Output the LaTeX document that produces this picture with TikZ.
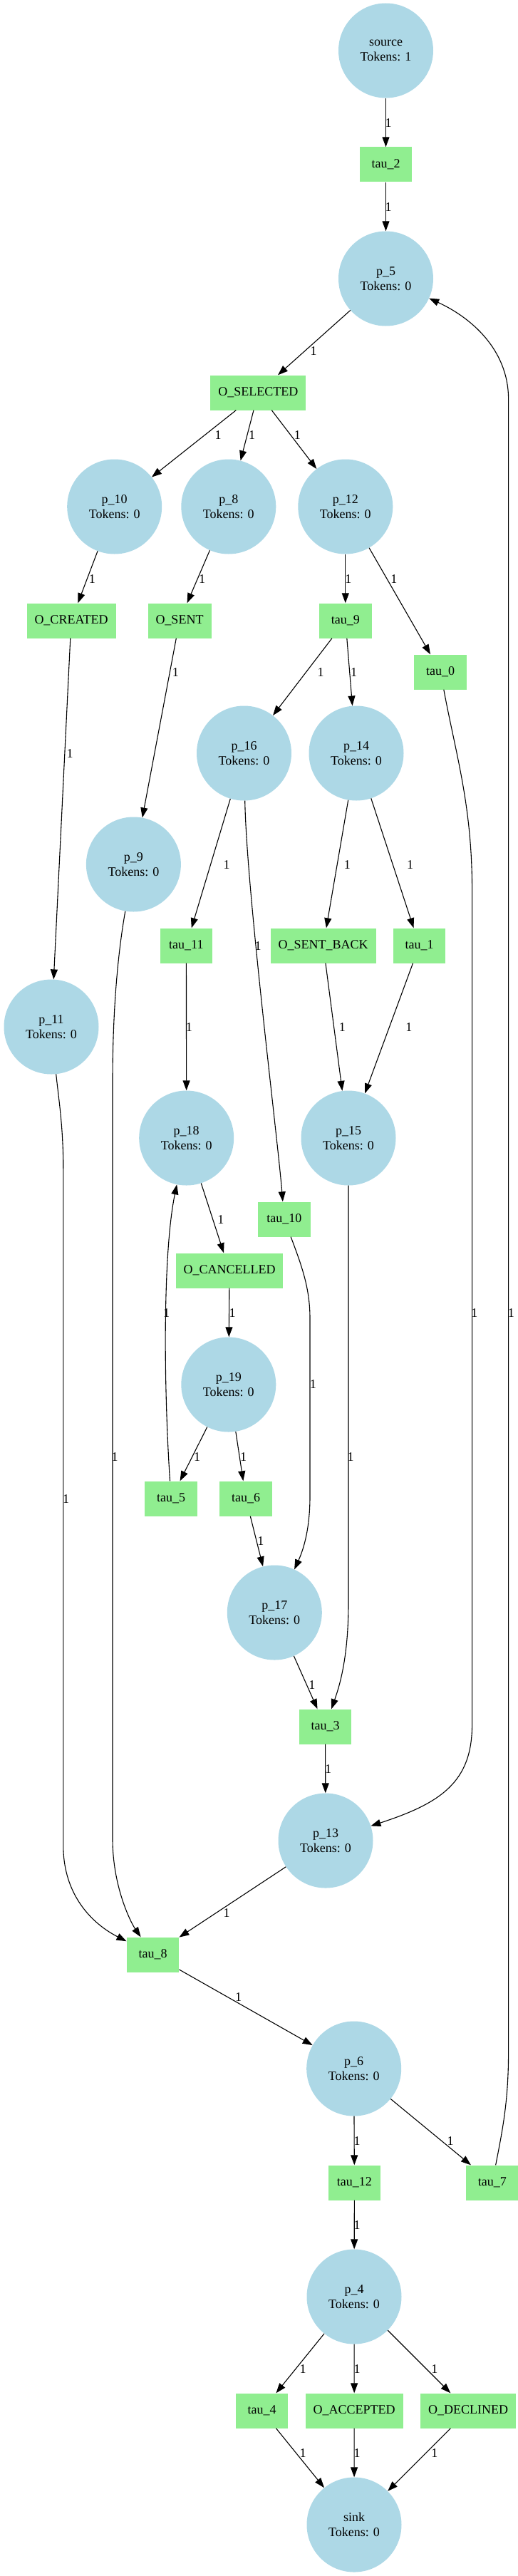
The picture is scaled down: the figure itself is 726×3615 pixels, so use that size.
\documentclass[tikz,border=0pt]{standalone}
\usepackage{fontspec}
\setmainfont{Liberation Serif}
\usetikzlibrary{arrows.meta}
\definecolor{placefill}{HTML}{ADD8E6}
\definecolor{transfill}{HTML}{90EE90}
\tikzset{
  place/.style={circle, fill=placefill, minimum size=133pt, inner sep=0pt, align=center, font=\fontsize{18pt}{21pt}\selectfont},
  trans/.style={rectangle, fill=transfill, minimum width=73.5pt, minimum height=49pt, inner xsep=11pt, inner ysep=0pt, font=\fontsize{18pt}{21pt}\selectfont},
  arc/.style={draw, line width=1.1pt, -{Triangle[length=14pt,width=10pt]}},
  lbl/.style={font=\fontsize{18pt}{21pt}\selectfont, inner sep=0pt}
}
\begin{document}
\begin{tikzpicture}[x=1pt,y=-1pt]
\useasboundingbox (0,0) rectangle (726,3615);
% nodes
\node[place] (source) at (541.5,71) {source\\Tokens: 1};
\node[trans] (tau2) at (541.5,231) {tau\_2};
\node[place] (p5) at (541.5,391) {p\_5\\Tokens: 0};
\node[trans] (osel) at (362.4,551) {O\_SELECTED};
\node[place] (p10) at (160.7,711) {p\_10\\Tokens: 0};
\node[place] (p8) at (320.8,711) {p\_8\\Tokens: 0};
\node[place] (p12) at (484.8,711) {p\_12\\Tokens: 0};
\node[trans] (ocre) at (100,871) {O\_CREATED};
\node[trans] (osent) at (252,871) {O\_SENT};
\node[trans] (tau9) at (484.8,871) {tau\_9};
\node[trans] (tau0) at (618.2,943) {tau\_0};
\node[place] (p16) at (342.5,1057) {p\_16\\Tokens: 0};
\node[place] (p14) at (500,1057) {p\_14\\Tokens: 0};
\node[place] (p9) at (187.4,1213) {p\_9\\Tokens: 0};
\node[trans] (tau11) at (261.4,1327) {tau\_11};
\node[trans] (osb) at (453.7,1327) {O\_SENT\_BACK};
\node[trans] (tau1) at (588.6,1327) {tau\_1};
\node[place] (p11) at (72,1441) {p\_11\\Tokens: 0};
\node[place] (p18) at (261.7,1597) {p\_18\\Tokens: 0};
\node[place] (p15) at (489,1597) {p\_15\\Tokens: 0};
\node[trans] (tau10) at (398.8,1711) {tau\_10};
\node[trans] (ocan) at (322,1783) {O\_CANCELLED};
\node[place] (p19) at (320.8,1943) {p\_19\\Tokens: 0};
\node[trans] (tau5) at (240.2,2103) {tau\_5};
\node[trans] (tau6) at (345.1,2103) {tau\_6};
\node[place] (p17) at (385.3,2263) {p\_17\\Tokens: 0};
\node[trans] (tau3) at (456.5,2423) {tau\_3};
\node[place] (p13) at (457,2583) {p\_13\\Tokens: 0};
\node[trans] (tau8) at (214.5,2743) {tau\_8};
\node[place] (p6) at (496.7,2903) {p\_6\\Tokens: 0};
\node[trans] (tau12) at (497.4,3063) {tau\_12};
\node[trans] (tau7) at (690.9,3063) {tau\_7};
\node[place] (p4) at (497,3223) {p\_4\\Tokens: 0};
\node[trans] (tau4) at (367.5,3383) {tau\_4};
\node[trans] (oacc) at (497.2,3383) {O\_ACCEPTED};
\node[trans] (odec) at (657,3383) {O\_DECLINED};
\node[place] (sink) at (497,3543) {sink\\Tokens: 0};
% edges
\draw[arc] (source) -- (tau2) node[lbl] at (545,173) {1};
\draw[arc] (tau2) -- (p5) node[lbl] at (545,291) {1};
\draw[arc] (p5) -- (osel) node[lbl] at (440.2,493) {1};
\draw[arc] (osel) -- (p10) node[lbl] at (306,611) {1};
\draw[arc] (osel) -- (p8) node[lbl] at (353.7,611) {1};
\draw[arc] (osel) -- (p12) node[lbl] at (417.3,611) {1};
\draw[arc] (p10) -- (ocre) node[lbl] at (129.4,813) {1};
\draw[arc] (p8) -- (osent) node[lbl] at (283.6,813) {1};
\draw[arc] (p12) -- (tau9) node[lbl] at (488.8,813) {1};
\draw[arc] (p12) -- (tau0) node[lbl] at (552.8,813) {1};
\draw[arc] (ocre) -- (p11) node[lbl] at (98.1,1058) {1};
\draw[arc] (osent) -- (p9) node[lbl] at (246.3,944) {1};
\draw[arc] (tau9) -- (p16) node[lbl] at (450,944) {1};
\draw[arc] (tau9) -- (p14) node[lbl] at (496.7,944) {1};
\draw[arc] (tau0) .. controls (640,1060) and (662.6,1130) .. (662.6,1250) -- (662.6,2420) .. controls (662.6,2500) and (620,2530) .. (p13) node[lbl] at (665.9,1843) {1};
\draw[arc] (tau7) .. controls (705,2990) and (713.6,2950) .. (713.6,2880) -- (713.6,560) .. controls (713.6,490) and (660,445) .. (p5) node[lbl] at (717.3,1843) {1};
\draw[arc] (p16) -- (tau11) node[lbl] at (318.2,1214) {1};
\draw[arc] (p16) .. controls (346,1250) and (390,1600) .. (tau10) node[lbl] at (362.1,1328) {1};
\draw[arc] (p14) -- (osb) node[lbl] at (487.4,1214) {1};
\draw[arc] (p14) -- (tau1) node[lbl] at (575.7,1214) {1};
\draw[arc] (p9) .. controls (165,1340) and (158,1420) .. (158,1520) -- (158,2580) .. controls (158,2650) and (185,2700) .. (tau8) node[lbl] at (161.2,2045) {1};
\draw[arc] (p11) .. controls (82,1540) and (88.8,1580) .. (88.8,1640) -- (88.8,2590) .. controls (88.8,2660) and (130,2700) .. (tau8) node[lbl] at (92.5,2104) {1};
\draw[arc] (tau11) -- (p18) node[lbl] at (265.4,1441.7) {1};
\draw[arc] (osb) -- (p15) node[lbl] at (480.4,1441.7) {1};
\draw[arc] (tau1) -- (p15) node[lbl] at (573.8,1441.7) {1};
\draw[arc] (p18) -- (ocan) node[lbl] at (309.8,1712) {1};
\draw[arc] (tau10) .. controls (425,1780) and (435,1810) .. (435,1850) -- (435,2100) .. controls (435,2140) and (428,2170) .. (p17) node[lbl] at (439.3,1943) {1};
\draw[arc] (ocan) -- (p19) node[lbl] at (326.2,1843) {1};
\draw[arc] (tau5) .. controls (230,1950) and (228,1760) .. (p18) node[lbl] at (233.6,1843) {1};
\draw[arc] (p19) -- (tau5) node[lbl] at (276.6,2045) {1};
\draw[arc] (p19) -- (tau6) node[lbl] at (341.6,2045) {1};
\draw[arc] (tau6) -- (p17) node[lbl] at (365.9,2163) {1};
\draw[arc] (p17) -- (tau3) node[lbl] at (437.9,2365) {1};
\draw[arc] (p15) -- (489,2250) .. controls (489,2330) and (475,2370) .. (tau3) node[lbl] at (492,2045) {1};
\draw[arc] (tau3) -- (p13) node[lbl] at (460.7,2482.7) {1};
\draw[arc] (p13) -- (tau8) node[lbl] at (318.2,2685) {1};
\draw[arc] (tau8) -- (p6) node[lbl] at (334.6,2803) {1};
\draw[arc] (p6) -- (tau12) node[lbl] at (501,3005) {1};
\draw[arc] (p6) -- (tau7) node[lbl] at (632.2,3005) {1};
\draw[arc] (tau12) -- (p4) node[lbl] at (501,3122.7) {1};
\draw[arc] (p4) -- (tau4) node[lbl] at (425.2,3325) {1};
\draw[arc] (p4) -- (oacc) node[lbl] at (501,3325) {1};
\draw[arc] (p4) -- (odec) node[lbl] at (609.8,3325) {1};
\draw[arc] (tau4) -- (sink) node[lbl] at (425.2,3443) {1};
\draw[arc] (oacc) -- (sink) node[lbl] at (501,3443) {1};
\draw[arc] (odec) -- (sink) node[lbl] at (609.8,3443) {1};
\end{tikzpicture}
\end{document}
